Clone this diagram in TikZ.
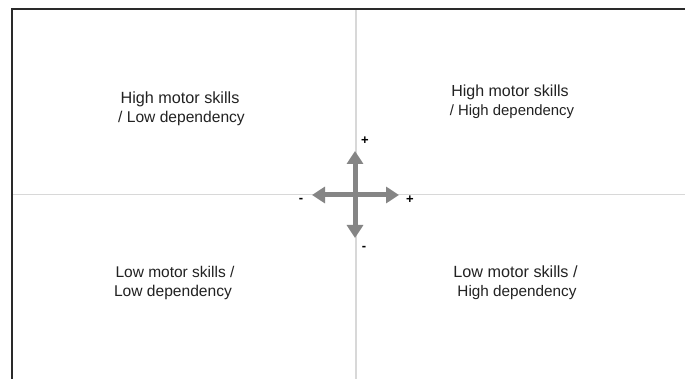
\documentclass[tikz,border=0pt]{standalone}
\usepackage{fontspec}
\setmainfont{Liberation Sans}
\usetikzlibrary{arrows.meta}
\definecolor{frame}{HTML}{2A2A2A}
\definecolor{axisline}{HTML}{D8D8D8}
\definecolor{arrowgrey}{HTML}{858585}
\definecolor{txt}{HTML}{222222}
\tikzset{
  lbl/.style={anchor=base, inner sep=0pt, text=txt},
  sign/.style={inner sep=0pt, text=black, font=\fontsize{13}{15}\selectfont\bfseries},
  bigarrow/.style={draw=arrowgrey, line width=5pt, {Triangle[width=16pt,length=13pt]}-{Triangle[width=16pt,length=13pt]}},
}
\newcommand{\fs}[1]{\fontsize{#1}{#1}\selectfont}
\begin{document}
\begin{tikzpicture}[x=1pt,y=-1pt]
\useasboundingbox (0,0) rectangle (685,379);
\fill[white] (0,0) rectangle (685,379);
% grey axes
\coordinate (hl) at (12,194.5);
\coordinate (hr) at (685,194.5);
\coordinate (vt) at (356,9);
\coordinate (vb) at (356,379);
\draw[axisline, line width=1.5pt] (hl) -- (hr);
\draw[axisline, line width=1.5pt] (vt) -- (vb);
% frame
\coordinate (tl) at (12,9);
\coordinate (tr) at (685,9);
\coordinate (bl) at (12,379);
\draw[frame, line width=1.6pt] (bl) -- (tl) -- (tr);
% cross arrows
\coordinate (aw) at (312,195);
\coordinate (ae) at (399,195);
\coordinate (an) at (355,151);
\coordinate (as) at (355,238);
\draw[bigarrow] (aw) -- (ae);
\draw[bigarrow] (an) -- (as);
% signs
\node[sign] (pn) at (365,141) {+};
\node[sign] (ps) at (364,248) {-};
\node[sign] (pw) at (301,200) {-};
\node[sign] (pe) at (410,200) {+};
% quadrant labels
\node[lbl, font=\fs{16.2}] (tl1) at (180,104) {High motor skills};
\node[lbl, font=\fs{15.6}] (tl2) at (181.5,122.5) {/ Low dependency};
\node[lbl, font=\fs{16}] (tr1) at (510,97) {High motor skills};
\node[lbl, font=\fs{14.9}] (tr2) at (512,116) {/ High dependency};
\node[lbl, font=\fs{15.5}] (bl1) at (175,278) {Low motor skills /};
\node[lbl, font=\fs{15.6}] (bl2) at (173,297) {Low dependency};
\node[lbl, font=\fs{16.2}] (br1) at (515.5,278) {Low motor skills /};
\node[lbl, font=\fs{15.3}] (br2) at (517,297) {High dependency};
\end{tikzpicture}
\end{document}
